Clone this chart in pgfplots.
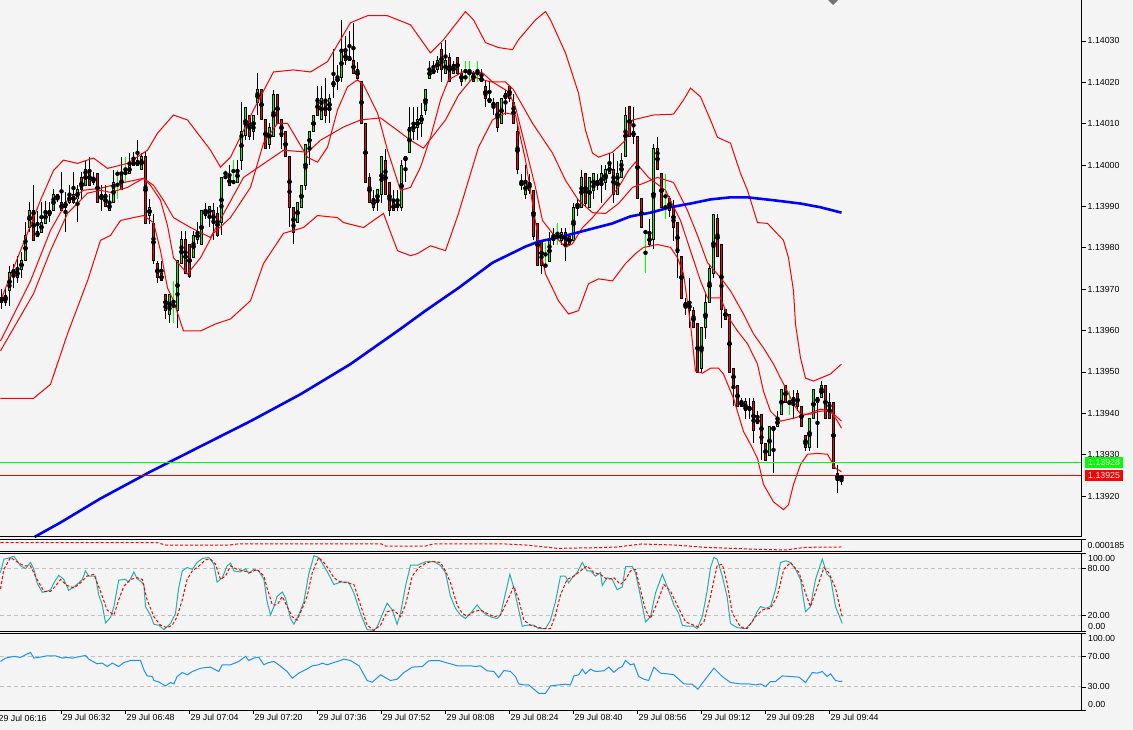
\documentclass[border=0pt]{standalone}
\usepackage{fontspec}
\setmainfont{Liberation Sans}
\usepackage{pgfplots}
\usepackage{pgfplotstable}
\pgfplotsset{compat=1.18}
\definecolor{bg}{HTML}{F4F4F4}
\definecolor{bull}{HTML}{00FF00}
\definecolor{bear}{HTML}{FF0000}
\definecolor{stochk}{HTML}{20B2AA}
\definecolor{rsiblue}{HTML}{1E90FF}
\definecolor{levgray}{HTML}{C0C0C0}
\definecolor{mablue}{HTML}{0000FF}
\newcommand{\lbl}{\fontsize{8.8}{10}\selectfont}
\tikzset{pframe/.style={line width=1pt, black}}

% Prices are given in points (0.00001) above 1.13900, e.g. 25.0 = 1.13925
% (TeX's floating point unit cannot resolve 1.139xx to a point).
% m = minute index, 0 = 29 Jul 06:16
\pgfplotstableread{
m o h l c
1 68.0 70.0 65.1 66.8
2 68.4 70.0 66.0 66.8
3 69.6 75.7 66.0 74.0
4 73.6 76.1 70.4 74.8
5 74.8 78.1 71.6 72.8
6 74.8 78.9 72.8 76.9
7 76.9 86.2 76.9 82.9
8 85.0 91.0 83.8 89.0
9 89.0 95.1 81.7 81.7
10 82.8 89.0 82.5 83.9
11 83.8 91.0 83.8 86.2
12 85.9 91.4 85.8 89.0
13 89.0 91.0 86.2 87.8
14 89.0 94.3 89.0 92.9
15 92.9 92.9 91.0 91.8
16 91.0 98.3 89.0 89.0
17 89.8 93.5 83.8 91.0
18 90.9 95.1 90.6 92.9
19 92.9 98.3 90.6 90.9
20 91.8 95.1 86.2 94.0
21 96.9 98.3 91.8 94.0
22 95.1 101.3 95.1 98.9
23 98.9 102.0 95.1 95.1
24 95.9 98.3 95.1 96.9
25 97.9 97.9 91.0 91.0
26 92.9 95.1 89.0 91.8
27 92.9 95.1 89.8 90.0
28 89.0 92.9 89.0 91.0
29 91.0 98.7 91.0 95.9
30 97.9 98.7 91.8 97.9
31 97.9 102.0 94.0 94.0
32 98.1 102.0 95.9 98.1
33 97.9 102.8 97.9 99.9
34 99.9 103.2 99.9 101.0
35 101.0 106.0 99.9 99.9
36 98.9 102.8 98.9 102.1
37 102.1 103.2 85.9 85.9
38 87.8 91.8 85.8 89.8
39 85.8 88.2 76.1 76.9
40 76.1 76.9 71.6 72.8
41 73.8 76.9 72.0 72.0
42 68.8 68.8 62.7 64.9
43 64.0 68.8 61.9 68.8
44 66.0 72.0 61.9 66.0
45 64.9 76.9 60.7 76.9
46 76.1 84.0 76.1 81.9
47 81.9 84.0 73.8 73.8
48 80.9 80.9 72.8 73.0
49 77.7 84.1 77.7 82.9
50 81.9 86.2 80.9 83.8
51 80.9 89.0 80.9 89.0
52 87.8 90.8 87.0 89.0
53 87.8 90.0 85.0 90.0
54 89.0 90.8 81.9 85.9
55 88.2 89.8 82.6 83.0
56 86.0 97.1 83.0 97.1
57 97.1 98.9 97.1 97.1
58 97.1 100.0 95.1 95.1
59 95.9 101.2 95.9 95.9
60 95.9 101.2 95.9 98.9
61 101.2 115.3 98.7 108.2
62 107.1 114.0 106.0 114.0
63 112.1 112.1 106.0 107.0
64 108.0 112.1 106.0 112.1
65 115.1 122.2 112.1 118.2
66 118.2 118.2 111.0 111.0
67 111.0 111.0 104.0 104.0
68 105.0 110.1 104.0 109.1
69 107.0 118.2 107.0 117.1
70 117.1 117.1 110.1 110.1
71 111.0 111.0 104.0 107.0
72 108.0 108.0 102.0 102.1
73 102.1 102.1 85.0 89.8
74 89.8 89.8 80.9 83.8
75 86.0 90.9 86.0 90.9
76 89.8 95.1 89.8 95.1
77 95.0 105.0 93.9 105.0
78 104.0 108.0 100.0 108.0
79 108.0 112.1 108.0 112.1
80 116.1 119.1 112.1 112.1
81 111.0 119.1 111.0 116.1
82 115.1 121.1 110.1 112.1
83 113.1 117.1 110.1 116.1
84 119.1 128.0 116.1 120.2
85 121.1 124.2 118.2 120.2
86 121.1 135.1 120.2 128.0
87 127.2 131.3 124.2 125.2
88 125.2 132.3 125.2 126.2
89 125.2 134.3 122.2 122.2
90 123.2 125.0 120.2 121.0
91 120.2 120.2 110.1 110.1
92 110.1 110.1 95.9 95.9
93 97.0 98.0 90.9 90.9
94 91.9 94.0 88.9 89.8
95 90.9 94.0 88.9 94.0
96 92.8 102.1 90.8 102.1
97 101.0 104.0 92.8 92.8
98 95.9 95.9 87.8 88.9
99 90.9 94.0 88.9 88.9
100 90.9 93.9 89.0 89.8
101 89.8 101.2 88.9 100.0
102 101.0 102.1 95.9 102.1
103 103.0 114.0 103.0 109.1
104 110.1 114.0 106.0 108.0
105 109.1 114.0 106.0 111.0
106 110.1 115.1 106.8 112.1
107 113.1 118.2 112.1 118.2
108 121.0 125.2 121.0 123.2
109 123.2 125.2 122.2 122.2
110 123.2 126.3 122.2 125.2
111 128.0 129.5 120.2 123.2
112 122.2 130.3 122.2 125.2
113 126.1 127.2 120.2 120.2
114 122.2 125.2 122.2 124.2
115 126.1 126.1 122.2 122.2
116 122.2 123.2 119.1 120.2
117 121.2 125.2 120.2 121.2
118 122.2 125.2 120.2 122.2
119 122.2 122.7 120.2 120.2
120 122.2 125.2 120.2 122.2
121 121.2 123.2 120.2 120.2
122 119.1 120.2 114.1 116.1
123 115.2 120.2 115.2 116.1
124 115.2 116.1 112.1 114.1
125 115.2 115.2 108.0 109.1
126 110.1 116.1 110.1 116.1
127 116.1 118.2 112.1 117.2
128 119.1 119.1 115.2 116.1
129 115.2 117.2 110.1 110.1
130 108.0 110.1 97.9 99.0
131 95.9 97.9 93.9 95.0
132 92.9 100.0 91.9 95.9
133 95.9 97.9 92.9 93.9
134 93.9 93.9 81.8 82.8
135 85.8 85.8 75.7 75.7
136 81.8 81.8 73.7 75.7
137 75.7 81.1 75.7 75.7
138 76.7 83.8 76.7 81.8
139 82.8 84.8 80.8 81.8
140 82.8 86.0 80.8 82.8
141 81.8 84.8 80.8 83.8
142 83.8 84.8 76.7 80.8
143 82.8 82.8 80.8 80.8
144 81.8 90.8 81.8 89.8
145 90.8 91.9 87.8 89.8
146 89.8 98.9 89.8 97.0
147 97.9 97.9 89.8 90.8
148 89.8 97.0 89.8 97.0
149 93.9 97.9 91.9 97.9
150 95.9 97.9 93.9 95.0
151 95.0 100.0 90.9 97.9
152 95.9 100.0 93.9 98.9
153 97.9 103.0 97.9 100.0
154 98.9 103.0 90.9 92.9
155 92.9 101.0 92.9 97.9
156 97.0 103.0 97.0 101.0
157 102.0 114.1 102.0 112.1
158 114.1 114.1 107.0 107.0
159 107.0 114.1 105.1 108.0
160 107.0 107.0 91.9 91.9
161 91.9 91.9 84.8 84.8
162 83.8 83.8 73.8 83.8
163 83.0 87.0 80.1 80.9
164 81.9 105.2 79.7 104.0
165 104.0 106.8 98.9 98.9
166 97.9 97.9 89.8 89.8
167 89.8 97.9 87.0 89.8
168 91.9 92.5 87.5 89.0
169 89.8 91.5 81.7 85.0
170 86.0 86.0 72.8 78.9
171 77.9 77.9 67.8 67.8
172 66.8 67.8 63.8 65.7
173 66.8 72.8 60.7 64.8
174 64.8 65.8 60.7 60.7
175 61.7 61.7 49.8 49.8
176 50.9 60.7 49.8 60.7
177 60.7 68.8 57.9 66.8
178 66.8 75.9 66.8 74.9
179 73.9 88.1 72.8 88.1
180 87.0 88.1 77.9 77.9
181 80.9 80.9 60.7 65.0
182 65.0 65.0 62.7 62.7
183 63.8 63.8 49.8 49.8
184 50.9 50.9 41.7 46.7
185 46.7 46.7 41.7 41.7
186 42.9 43.7 41.7 41.7
187 42.9 43.7 38.7 40.6
188 40.6 43.7 38.7 41.7
189 42.9 43.7 32.8 35.8
190 37.6 40.6 37.6 38.7
191 39.7 39.7 28.7 32.8
192 32.8 32.8 28.7 28.7
193 29.8 36.8 29.8 36.8
194 35.8 36.8 25.5 36.8
195 36.8 40.6 36.8 38.7
196 39.7 45.7 39.7 45.7
197 46.7 46.7 42.7 42.7
198 42.7 45.3 39.7 42.7
199 43.7 45.7 38.7 42.7
200 44.7 45.7 40.6 41.7
201 41.7 41.7 36.8 36.8
202 34.7 34.7 30.8 31.7
203 31.7 38.7 30.8 38.7
204 38.7 45.7 38.7 45.7
205 43.7 43.7 31.7 42.7
206 43.7 47.8 43.7 46.7
207 46.7 46.7 38.7 38.7
208 42.7 44.9 38.7 38.7
209 42.7 42.7 26.6 26.6
210 25.5 27.5 20.7 23.7
211 24.0 25.0 22.7 25.0
}\candles

\pgfplotstableread{
m q
0.75 67.2
5.75 79.3
10.75 91.5
14.0 98.7
16.5 101.2
20.0 100.4
24.0 101.7
27.5 99.2
32.5 100.4
37.5 103.6
40.0 107.7
44.0 112.1
47.5 110.9
53.25 103.6
55.75 99.5
58.25 101.9
64.0 113.3
69.0 122.5
74.0 123.0
78.25 122.5
82.5 125.0
88.25 134.4
92.5 136.1
97.5 136.1
103.25 133.9
108.25 127.1
111.5 130.3
117.0 137.1
119.0 135.1
122.0 129.6
125.25 128.4
128.75 127.9
130.25 130.3
134.5 135.1
137.0 137.1
138.25 135.1
142.0 127.1
145.25 117.4
147.0 108.4
148.75 102.9
150.25 101.9
153.75 103.1
157.0 106.0
158.75 110.9
164.0 112.1
169.0 112.3
171.5 115.7
173.25 118.6
175.75 116.5
178.25 110.9
180.0 106.7
183.25 105.3
185.75 98.0
187.5 93.9
190.0 86.1
192.5 85.9
196.5 81.8
197.75 77.6
199.0 69.6
199.5 61.6
200.75 53.4
202.0 48.5
204.0 47.8
208.25 49.5
211.0 51.9
}\bbup

\pgfplotstableread{
m q
0.75 55.1
9.0 68.9
13.25 79.3
17.5 88.3
22.5 93.2
25.75 93.9
28.25 93.4
32.5 94.6
36.5 96.8
39.0 95.1
41.5 91.5
44.0 87.3
48.25 84.9
53.25 82.5
61.5 97.0
71.5 103.6
77.5 103.1
80.75 106.0
86.5 109.2
90.75 110.9
95.75 111.4
100.0 108.4
103.25 106.0
106.5 104.1
112.0 110.9
115.25 116.9
119.0 121.3
123.25 120.1
127.0 120.1
129.0 118.2
133.75 110.1
138.75 102.9
142.0 96.3
145.25 91.5
148.75 88.5
152.0 88.3
155.25 90.7
158.75 94.6
161.5 95.6
165.0 97.0
169.0 95.8
172.5 89.0
175.0 83.0
177.5 76.4
180.75 72.8
183.25 69.6
186.5 64.0
189.0 59.2
191.5 55.8
194.0 51.9
195.75 48.5
197.5 45.3
199.0 42.2
200.75 39.8
203.25 39.8
205.75 40.5
208.25 40.5
211.0 38.1
}\bbmid

\pgfplotstableread{
m q
0.75 43.6
9.0 43.6
13.25 47.0
17.5 59.2
22.5 72.0
25.75 81.8
28.25 83.0
30.75 86.6
34.0 87.3
36.5 87.8
39.0 86.1
40.75 79.3
42.5 70.3
44.0 67.2
46.5 59.9
50.75 59.9
54.5 61.6
58.25 62.8
63.25 67.2
66.5 76.2
71.5 83.5
74.0 84.2
76.5 84.9
80.0 87.8
85.0 87.3
86.5 86.1
91.5 84.9
95.0 87.3
96.5 88.3
100.0 79.3
103.25 78.1
105.0 78.6
108.25 80.5
112.0 79.3
115.25 88.3
120.25 104.3
123.75 110.9
127.0 112.6
129.5 112.1
132.0 101.2
135.25 81.8
137.0 73.7
140.25 67.2
142.75 64.0
145.25 64.8
147.75 71.3
150.25 72.5
153.75 72.0
157.0 76.2
159.5 78.6
161.5 80.1
165.0 80.8
168.25 80.1
170.0 77.6
171.5 73.7
173.25 61.6
174.5 50.2
176.25 49.7
178.25 50.9
180.25 50.9
181.5 49.5
184.0 43.6
186.5 35.6
188.25 32.5
190.0 29.1
191.5 22.8
194.0 18.6
196.5 16.7
197.75 17.9
199.0 22.8
200.75 27.6
202.5 30.1
205.0 30.3
207.5 30.1
209.5 26.7
211.0 25.9
}\bblow

\pgfplotstableread{
m q
0.75 57.5
8.25 72.0
13.25 84.2
17.5 91.5
21.5 93.9
25.75 94.4
30.75 95.6
36.5 96.8
38.25 95.1
40.75 91.5
42.5 85.4
44.0 77.6
47.5 73.7
50.75 77.6
54.0 83.5
58.25 87.3
63.25 94.6
66.5 105.3
70.0 110.1
72.5 110.1
75.0 106.0
77.5 101.9
80.0 100.7
82.5 104.3
85.0 113.3
87.5 118.9
90.0 120.6
91.5 119.4
95.0 112.6
97.5 103.6
100.75 93.9
103.25 94.6
105.75 99.5
108.25 106.7
110.75 115.7
112.75 120.6
116.25 122.5
121.25 122.3
123.75 120.1
127.75 117.7
129.5 114.0
132.0 104.3
134.5 94.6
136.25 86.6
138.75 83.5
142.0 80.1
143.75 81.0
146.25 84.9
148.75 87.3
152.0 91.0
155.25 94.6
157.75 98.7
159.5 100.7
162.75 97.0
167.0 93.9
170.75 86.6
173.25 79.3
175.75 72.0
177.5 67.9
180.75 67.9
182.75 63.1
185.0 59.9
187.5 56.8
190.0 51.9
191.5 45.3
193.25 40.5
195.75 38.1
199.0 38.8
202.5 39.8
205.75 41.0
208.25 40.5
210.0 38.1
211.0 36.4
}\fastma

\pgfplotstableread{
m q
9.25 10.1
15.75 13.6
25.75 19.4
38.25 25.9
50.75 32.0
63.25 38.1
75.75 44.6
88.25 51.9
100.75 60.4
107.0 64.8
115.25 70.3
123.75 76.4
132.0 80.3
135.25 81.5
140.25 82.5
147.0 84.2
153.75 85.9
158.25 87.6
163.25 88.5
168.25 89.8
173.25 90.7
178.25 91.7
183.25 92.2
187.5 92.2
194.0 91.5
200.75 90.7
205.75 89.8
211.0 88.5
}\slowma

\pgfplotstableread{
m v
0.75 0.000138
40 0.000138
42 0.000100
58 0.000100
60 0.000117
96 0.000117
97 0.000083
107 0.000083
109 0.000117
127 0.000117
132 0.000100
140 0.000044
150 0.000055
155 0.000067
161 0.000117
169 0.000100
177 0.000061
190 0.000028
197 0.000017
202 0.000061
211 0.000067
}\osma

\pgfplotstableread{
m v
0.75 74.8
1.6 92.2
2.4 93.0
4.1 95.7
4.9 90.0
5.75 83.5
7.0 80.0
8.25 87.8
9.1 79.1
9.9 61.7
11.2 49.6
12.4 50.9
13.25 53.0
14.1 61.7
15.3 71.3
16.6 66.1
17.8 52.2
19.1 56.5
20.3 61.7
21.2 66.1
22.0 77.0
22.8 70.4
24.5 70.4
25.3 46.5
26.2 33.5
27.0 10.4
28.25 17.4
29.1 31.3
30.3 65.2
32.0 66.1
32.8 62.6
34.1 75.7
34.9 67.0
35.75 63.9
36.6 59.6
37.0 31.3
38.25 20.4
39.1 8.7
40.3 7.4
41.6 1.7
43.25 9.6
44.5 22.6
45.3 55.2
46.2 77.0
47.4 81.3
48.7 79.1
49.9 87.8
51.2 93.0
52.8 94.3
54.1 85.7
54.9 62.6
56.2 68.3
57.4 83.5
58.25 87.0
59.1 77.0
60.75 75.7
62.0 80.0
62.8 73.9
64.1 79.1
65.3 77.0
66.6 66.1
67.4 37.8
68.25 20.4
69.1 31.3
69.9 44.3
71.2 50.0
72.0 42.2
73.25 16.1
74.1 8.7
75.3 20.4
76.6 37.8
77.8 72.6
79.1 96.5
80.3 94.3
81.6 83.5
82.8 72.6
84.1 59.6
85.75 62.6
87.8 62.6
89.1 48.7
90.75 22.6
92.4 1.7
94.1 0.9
94.9 5.2
97.4 35.7
98.7 27.0
99.9 8.7
100.75 22.6
102.0 57.4
103.25 84.3
104.9 84.3
107.0 88.7
109.1 89.1
110.75 84.0
112.0 74.8
113.25 44.3
114.5 29.1
115.75 20.4
117.0 16.1
118.25 22.6
119.9 33.5
121.2 24.8
122.4 20.4
123.7 17.4
124.9 16.1
125.75 20.4
127.0 48.7
128.1 72.6
129.1 55.2
130.3 27.0
131.2 6.1
132.4 7.4
134.1 7.4
135.3 3.0
137.0 3.0
138.25 13.9
139.5 37.8
140.75 70.4
142.0 70.4
142.8 61.7
143.7 68.3
144.9 74.8
146.2 87.8
147.4 77.0
148.25 77.0
149.5 70.4
150.75 74.8
151.2 58.3
152.4 68.3
153.7 66.1
154.9 53.0
156.2 56.5
157.0 82.6
158.7 82.6
159.5 74.8
160.75 44.3
162.0 11.7
163.25 18.3
164.5 48.7
166.2 72.6
167.4 57.4
169.1 33.5
170.3 22.6
171.2 7.4
172.4 6.1
174.1 6.1
174.9 3.0
176.2 18.3
177.4 50.9
178.25 81.3
179.1 94.3
179.9 92.2
181.2 70.4
182.4 44.3
183.25 9.6
184.9 4.3
187.0 3.0
188.7 11.7
189.9 24.8
190.75 31.3
192.0 29.1
193.25 31.3
194.5 53.0
195.75 87.8
197.0 90.0
198.25 87.8
199.5 79.1
200.75 66.1
202.0 24.8
203.25 31.3
204.5 66.1
206.2 92.2
207.4 72.6
208.25 68.3
209.5 31.3
211.2 9.6
}\stk

\pgfplotstableread{
m v
0.75 53.9
1.6 79.1
3.25 94.3
4.9 88.7
6.6 83.5
8.25 83.5
9.9 66.1
11.6 50.9
13.25 50.9
14.5 57.4
15.75 66.1
17.4 58.3
19.1 55.2
20.75 61.7
22.4 70.4
24.1 72.6
25.75 50.9
27.4 27.0
29.1 20.4
30.3 40.0
31.6 57.4
33.25 66.1
34.9 68.3
36.2 66.1
37.4 40.0
39.1 18.3
40.75 7.4
42.4 4.3
43.7 7.4
44.9 18.3
46.2 40.0
47.4 66.1
48.7 77.0
50.4 83.5
52.0 91.3
53.25 92.2
54.5 85.7
55.75 66.1
57.0 70.4
58.25 83.5
59.9 79.1
61.6 77.0
63.25 74.8
64.9 79.1
66.6 70.4
67.4 55.2
68.7 33.5
69.9 33.5
71.2 44.3
72.4 31.3
73.7 18.3
74.9 13.9
76.2 29.1
77.4 44.3
78.7 74.8
80.3 94.3
81.6 87.8
82.8 79.1
84.1 68.3
85.3 63.9
87.4 61.7
89.1 59.6
90.75 33.5
92.4 7.4
94.1 0.9
95.75 7.4
97.4 24.8
99.1 27.0
100.75 18.3
102.0 33.5
103.7 70.4
105.3 81.3
107.4 87.8
109.1 89.1
110.75 87.8
112.0 77.0
113.25 61.7
114.9 33.5
116.2 22.6
117.4 19.1
119.1 24.8
120.75 27.0
122.4 22.6
124.1 18.3
125.75 20.4
127.4 37.8
129.1 57.4
130.3 40.0
131.6 13.9
133.25 7.4
134.9 5.2
136.6 3.0
138.25 3.0
139.5 20.4
140.75 46.5
142.4 66.1
144.1 70.4
145.75 77.0
147.4 83.5
149.1 74.8
150.75 72.6
152.4 66.1
154.1 68.3
155.75 59.6
157.0 66.1
158.25 77.0
159.5 79.1
160.75 53.0
162.0 27.0
163.25 16.1
164.9 35.7
166.6 59.6
168.25 50.9
169.9 33.5
172.0 11.7
174.1 7.4
175.3 5.2
176.6 11.7
178.25 44.3
179.9 83.5
181.2 85.7
182.4 61.7
183.7 22.6
185.75 5.2
187.4 3.0
189.5 18.3
191.2 27.0
193.25 29.1
194.9 44.3
196.6 79.1
198.25 87.8
200.4 74.8
202.0 48.7
203.25 31.3
204.9 55.2
206.6 81.3
207.8 74.8
209.5 55.2
210.75 27.0
211.2 18.3
}\std

\pgfplotstableread{
m v
0.75 63.0
2.0 67.4
4.1 69.6
5.75 68.3
7.0 71.7
8.25 74.8
9.1 67.4
10.75 68.7
12.4 70.4
14.5 70.4
16.2 67.4
17.4 68.3
18.7 67.4
20.75 69.6
22.0 70.9
22.8 66.1
24.9 60.0
26.2 60.9
27.4 56.5
28.7 60.9
30.3 56.5
31.6 61.7
33.25 64.3
35.75 64.3
36.6 52.2
37.4 44.3
38.7 43.5
39.1 38.3
40.3 36.5
42.0 31.3
43.25 35.7
44.1 33.9
44.9 43.5
46.2 48.7
47.4 45.7
48.7 50.0
50.75 54.3
53.25 55.7
55.3 50.0
56.2 58.7
58.25 58.7
60.3 63.0
62.0 69.6
62.8 64.3
64.1 67.4
65.3 68.7
66.6 58.7
67.8 61.7
69.1 63.0
70.3 58.7
72.4 50.0
73.7 41.3
75.3 47.8
77.0 52.2
78.7 57.4
80.3 58.7
81.2 60.9
82.4 58.7
84.1 61.7
85.75 64.3
86.6 66.1
88.25 64.3
90.4 57.4
92.4 38.3
93.7 36.1
95.75 45.7
98.25 38.3
99.9 40.0
101.6 48.7
103.7 55.7
106.2 56.5
107.8 63.9
110.4 64.3
112.0 61.7
113.25 60.0
114.9 57.4
117.0 57.4
118.25 57.4
119.5 56.5
120.75 57.4
122.4 50.9
124.1 50.0
125.3 42.2
126.6 51.3
128.25 50.0
129.5 43.5
130.3 33.9
131.6 32.6
132.8 32.6
134.1 27.0
135.3 21.7
137.0 21.7
138.25 31.3
140.3 32.6
142.0 33.5
143.25 32.6
144.1 44.3
145.3 45.7
146.2 53.0
147.0 47.0
148.25 53.0
149.5 50.0
151.6 50.9
152.8 55.7
154.1 49.1
155.3 54.3
156.2 56.5
157.0 64.3
158.25 58.7
159.1 60.0
160.3 43.5
161.6 40.0
162.8 38.3
164.1 55.7
165.75 47.8
167.4 47.0
169.1 45.7
171.6 33.9
173.7 33.5
175.1 27.0
176.2 34.8
179.1 54.3
181.2 43.5
183.25 35.7
185.75 33.9
187.8 33.9
189.5 32.6
190.75 33.9
192.0 30.4
193.25 37.0
194.5 37.0
196.2 44.3
198.25 43.5
200.4 42.6
202.0 35.7
203.7 48.7
204.9 47.8
206.2 50.0
207.4 43.5
208.25 47.0
209.5 38.3
210.75 37.0
211.2 37.5
}\rsi

\pgfplotsset{
  panel/.style={scale only axis, width=1082pt, xmin=0.625, xmax=271.125,
    axis line style={draw=none}, xtick=\empty, ytick pos=right, yticklabel pos=right,
    tick align=outside, major tick length=4pt,
    tick style={black, line width=0.8pt},
    yticklabel style={font=\lbl, anchor=west, inner sep=0pt, xshift=1.5pt},
    clip=false},
  cndl/.style={only marks, mark=none, forget plot, restrict y to domain=-100:400,
    error bars/y dir=both, error bars/y explicit, error bars/error mark=none},
}

\begin{document}
\begin{tikzpicture}[x=1pt,y=1pt]
\fill[bg] (0,0) rectangle (1133,-730);
\useasboundingbox (0,0) rectangle (1133,-730);
\fill[black!55] (828,0) -- (838,0) -- (833,-5) -- cycle;

% ---------------- main price panel ----------------
\begin{axis}[panel, at={(0pt,0pt)}, anchor=north west, height=537pt, ymin=10.1, ymax=139.9,
  ytick={20,30,40,50,60,70,80,90,100,110,120,130},
  yticklabels={1.13920,1.13930,1.13940,1.13950,1.13960,1.13970,1.13980,1.13990,1.14000,1.14010,1.14020,1.14030}]
% wicks (non-doji)
\addplot[cndl, error bars/error bar style={black, line width=1pt}]
  table[x=m, y expr={abs(\thisrow{c}-\thisrow{o})>0.3 ? (\thisrow{h}+\thisrow{l})/2 : -1000},
        y error expr={(\thisrow{h}-\thisrow{l})/2}]{\candles};
% body outline
\addplot[cndl, error bars/error bar style={black, line width=3pt}]
  table[x=m, y expr={abs(\thisrow{c}-\thisrow{o})>0.3 ? (\thisrow{o}+\thisrow{c})/2 : -1000},
        y error expr={abs(\thisrow{c}-\thisrow{o})/2+0.12}]{\candles};
% bull fill
\addplot[cndl, error bars/error bar style={bull, line width=1pt}]
  table[x=m, y expr={\thisrow{c}-\thisrow{o}>0.3 ? (\thisrow{o}+\thisrow{c})/2 : -1000},
        y error expr={max(abs(\thisrow{c}-\thisrow{o})/2-0.12,0)}]{\candles};
% bear fill
\addplot[cndl, error bars/error bar style={bear, line width=1pt}]
  table[x=m, y expr={\thisrow{o}-\thisrow{c}>0.3 ? (\thisrow{o}+\thisrow{c})/2 : -1000},
        y error expr={max(abs(\thisrow{c}-\thisrow{o})/2-0.12,0)}]{\candles};
% doji
\addplot[cndl, error bars/error bar style={bull, line width=1pt}]
  table[x=m, y expr={abs(\thisrow{c}-\thisrow{o})<0.3 ? (\thisrow{h}+\thisrow{l})/2 : -1000},
        y error expr={(\thisrow{h}-\thisrow{l})/2}]{\candles};
\addplot[cndl, error bars/error bar style={bull, line width=3pt}]
  table[x=m, y expr={abs(\thisrow{c}-\thisrow{o})<0.3 ? \thisrow{o} : -1000},
        y error expr={0.12}]{\candles};
% bands and averages
\addplot[bear, line width=1pt] table[x=m,y=q]{\bbup};
\addplot[bear, line width=1pt] table[x=m,y=q]{\bbmid};
\addplot[bear, line width=1pt] table[x=m,y=q]{\bblow};
\addplot[bear, line width=1pt] table[x=m,y=q]{\fastma};
\addplot[mablue, line width=2.6pt] table[x=m,y=q]{\slowma};
% ask / bid
\addplot[bull, line width=1pt] coordinates {(0.625,28) (271.125,28)};
\addplot[bear, line width=1pt] coordinates {(0.625,25) (271.125,25)};
\draw[pframe] (rel axis cs:0,0) -- (rel axis cs:1,0) -- (rel axis cs:1,1);
\node[fill=bull, text=white, font=\lbl, anchor=west, inner xsep=3pt, inner ysep=0pt, minimum height=11pt, xshift=3pt] at (axis cs:271.125,28) {1.13928};
\node[fill=bear, text=white, font=\lbl, anchor=west, inner xsep=3pt, inner ysep=0pt, minimum height=11pt, xshift=3pt] at (axis cs:271.125,25) {1.13925};
\end{axis}

% ---------------- small oscillator panel ----------------
\begin{axis}[panel, at={(0pt,-539pt)}, anchor=north west, height=12pt, ymin=0, ymax=0.0002, ytick=\empty]
\addplot[bear, line width=1pt, dash pattern=on 3pt off 2pt] table[x=m,y=v]{\osma};
\draw[pframe] (rel axis cs:0,1) -- (rel axis cs:1,1) -- (rel axis cs:1,0) -- (rel axis cs:0,0);
\draw[line width=0.8pt] (rel axis cs:1,1) -- ++(4pt,0pt);
\node[font=\lbl, anchor=west, inner sep=0pt, xshift=5.5pt] at (rel axis cs:1,0.45) {0.000185};
\end{axis}

% ---------------- stochastic ----------------
\begin{axis}[panel, at={(0pt,-553pt)}, anchor=north west, height=78pt, ymin=0, ymax=100,
  ytick={0,20,80,100}, yticklabels={,20.00,80.00,},
  ymajorgrids, grid style={levgray, dash pattern=on 4pt off 3pt, line width=1pt}]
\addplot[stochk, line width=1pt] table[x=m,y=v]{\stk};
\addplot[bear, line width=1pt, dash pattern=on 3pt off 2pt] table[x=m,y=v]{\std};
\draw[pframe] (rel axis cs:0,1) -- (rel axis cs:1,1) -- (rel axis cs:1,0) -- (rel axis cs:0,0);
\node[font=\lbl, anchor=west, inner sep=0pt, xshift=6pt, yshift=-5pt] at (rel axis cs:1,1) {100.00};
\node[font=\lbl, anchor=west, inner sep=0pt, xshift=6pt, yshift=5pt] at (rel axis cs:1,0) {0.00};
\end{axis}

% ---------------- RSI ----------------
\begin{axis}[panel, at={(0pt,-633pt)}, anchor=north west, height=77pt, ymin=0, ymax=100,
  ytick={0,30,70,100}, yticklabels={,30.00,70.00,},
  ymajorgrids, grid style={levgray, dash pattern=on 4pt off 3pt, line width=1pt},
  xtick={16,32,48,64,80,96,112,128,144,160,176,192,208}, xtick pos=bottom,
  xticklabels={29 Jul 06:32,29 Jul 06:48,29 Jul 07:04,29 Jul 07:20,29 Jul 07:36,29 Jul 07:52,29 Jul 08:08,29 Jul 08:24,29 Jul 08:40,29 Jul 08:56,29 Jul 09:12,29 Jul 09:28,29 Jul 09:44},
  xticklabel style={font=\lbl, anchor=north west, inner sep=0pt, xshift=1pt}]
\addplot[rsiblue, line width=1pt] table[x=m,y=v]{\rsi};
\draw[pframe] (rel axis cs:0,1) -- (rel axis cs:1,1) -- (rel axis cs:1,0) -- (rel axis cs:0,0);
\node[font=\lbl, anchor=west, inner sep=0pt, xshift=6pt, yshift=-5pt] at (rel axis cs:1,1) {100.00};
\node[font=\lbl, anchor=west, inner sep=0pt, xshift=6pt, yshift=6pt] at (rel axis cs:1,0) {0.00};
\node[font=\lbl, anchor=north west, inner sep=0pt, xshift=1pt, yshift=-5pt] at (axis cs:0,0) {29 Jul 06:16};
\end{axis}
\end{tikzpicture}
\end{document}
